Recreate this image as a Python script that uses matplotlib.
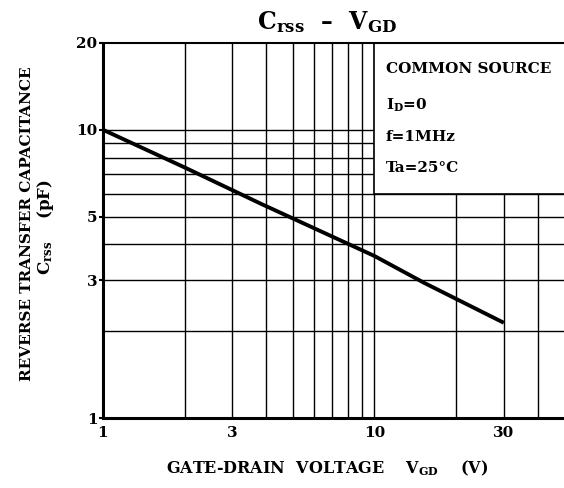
import matplotlib.pyplot as plt
from matplotlib.patches import Rectangle

# Crss vs VGD curve
vgd = [1, 2, 3.8, 10, 15.3, 30]
crss = [10, 7.4, 5.55, 3.65, 2.94, 2.14]

xgrid = [2, 3, 4, 5, 6, 7, 8, 9, 10, 20, 30, 40]
ygrid = [2, 3, 4, 5, 6, 7, 8, 9, 10]
xticks = [1, 3, 10, 30]
yticks = [1, 3, 5, 10, 20]
notes = ["COMMON SOURCE", r"$\mathrm{I_D}$=0", "f=1MHz", "Ta=25°C"]

plt.rcParams['font.family'] = 'DejaVu Serif'
plt.rcParams['font.weight'] = 'bold'
plt.rcParams['mathtext.fontset'] = 'custom'
plt.rcParams['mathtext.rm'] = 'DejaVu Serif:bold'

fig = plt.figure(figsize=(5.64, 4.88), dpi=100)
ax = fig.add_axes([0.1826, 0.1434, 0.8174, 0.7685])
ax.set_xscale('log')
ax.set_yscale('log')
ax.set_xlim(1, 50)
ax.set_ylim(1, 20)

for x in xgrid:
    ax.axvline(x, color='black', lw=1.0, zorder=1)
for y in ygrid:
    ax.axhline(y, color='black', lw=1.0, zorder=1)

# white conditions box covering upper right of grid
ax.add_patch(Rectangle((10, 6), 100, 14, facecolor='white', edgecolor='black',
                       lw=1.2, zorder=2))

ax.plot(vgd, crss, color='black', lw=2.8, zorder=3, solid_capstyle='butt')

for txt, yy in zip(notes, [16.2, 12.2, 9.46, 7.38]):
    ax.text(11, yy, txt, fontsize=11, fontweight='bold', va='center', ha='left', zorder=4)

ax.set_xticks(xticks)
ax.set_xticklabels([str(v) for v in xticks])
ax.set_yticks(yticks)
ax.set_yticklabels([str(v) for v in yticks])
ax.minorticks_off()
ax.tick_params(axis='x', length=0, pad=6, labelsize=11)
ax.tick_params(axis='y', length=3, width=1.5, pad=1, labelsize=11)

ax.spines['right'].set_visible(False)
ax.spines['left'].set_linewidth(2.2)
ax.spines['bottom'].set_linewidth(2.2)
ax.spines['top'].set_linewidth(1.5)

fig.text(0.58, 0.955, r"$\mathrm{C_{rss}}$  –  $\mathrm{V_{GD}}$", fontsize=17,
         ha='center', va='center')
fig.text(0.58, 0.041, r"GATE-DRAIN  VOLTAGE    $\mathrm{V_{GD}}$    (V)", fontsize=11.5,
         ha='center', va='center')
fig.text(0.048, 0.541, "REVERSE TRANSFER CAPACITANCE", fontsize=11,
         rotation=90, ha='center', va='center')
fig.text(0.080, 0.535, r"$\mathrm{C_{rss}}$    (pF)", fontsize=12,
         rotation=90, ha='center', va='center')

plt.savefig("out.png", dpi=100)
